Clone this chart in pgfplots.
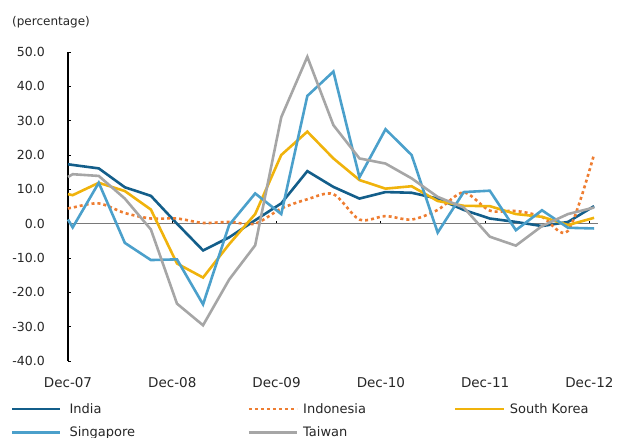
\documentclass[border=0pt]{standalone}
\usepackage{fontspec}
\setmainfont{DejaVu Sans}
\usepackage{pgfplots}
\usepackage{pgfplotstable}
\pgfplotsset{compat=1.18}

\definecolor{cIndia}{HTML}{135E8A}
\definecolor{cIndonesia}{HTML}{EE7D31}
\definecolor{cKorea}{HTML}{F0B30C}
\definecolor{cSingapore}{HTML}{4BA0CB}
\definecolor{cTaiwan}{HTML}{A6A6A6}

% quarterly growth, first row is the value where the lines meet the y axis
\pgfplotstableread{
x      india indonesia korea singapore taiwan
0      17.3  4.4   8.6   1.2   13.6
0.18   17.1  4.7   8.3  -1.1   14.4
1.18   16.1  5.9  11.9  11.9   13.9
2.18   10.6  3.1   9.5  -5.6    7.3
3.18    8.1  1.5   4.1 -10.6   -1.7
4.18    0.0  1.5 -11.6 -10.4  -23.3
5.18   -7.8  0.2 -15.7 -23.5  -29.6
6.18   -4.0  0.5  -6.0  -0.4  -16.3
7.18    1.0  0.0   2.8   8.8   -6.3
8.18    5.9  4.4  20.0   2.8   31.0
9.18   15.3  7.1  26.8  37.2   48.6
10.18  10.7  8.6  19.0  44.3   28.7
11.18   7.3  1.2  12.7  13.5   19.0
12.18   9.2  2.2  10.2  27.5   17.5
13.18   9.0  1.2  10.9  20.0   13.2
14.18   7.3  4.0   6.6  -2.6    7.8
15.18   4.0  9.1   5.2   9.2    4.7
16.18   1.5  3.8   5.1   9.6   -3.8
17.18   0.5  3.7   2.8  -1.9   -6.4
18.18  -0.7  2.0   2.0   3.9   -0.7
19.18   0.5 -2.1  -0.4  -1.2    2.8
20.18   5.1 20.2   1.7  -1.4    4.7
}\growth

\begin{document}
\begin{tikzpicture}
\begin{axis}[
    scale only axis,
    width=530pt, height=309pt,
    xmin=0, xmax=20.33,
    ymin=-40, ymax=50,
    axis x line*=middle,
    axis y line*=left,
    hide obscured x ticks=false,
    x axis line style={draw=gray!95!black, line width=1.6pt},
    y axis line style={black, line width=1.1pt},
    tick align=inside,
    major tick length=3pt,
    xtick={0,4,8,12,16,20},
    xticklabels={Dec-07,Dec-08,Dec-09,Dec-10,Dec-11,Dec-12},
    xtick style={black, line width=0.9pt},
    ytick={-40,-30,-20,-10,0,10,20,30,40,50},
    yticklabels={-40.0,-30.0,-20.0,-10.0,0.0,10.0,20.0,30.0,40.0,50.0},
    ytick style={black, line width=0.9pt},
    xticklabel style={anchor=center, yshift=-159pt, font=\fontsize{13.5}{16}\selectfont, text=black!85},
    yticklabel style={anchor=east, inner sep=0pt, xshift=-23pt, font=\fontsize{12.5}{15}\selectfont, text=black!85},
    clip=false,
    legend columns=3,
    legend cell align=left,
    legend image code/.code={\draw[#1] (0pt,0pt) -- (48pt,0pt);},
    legend style={at={(0,0)}, anchor=north west, xshift=-57pt, yshift=-42.4pt,
        draw=none, fill=none, inner sep=0pt, outer sep=0pt,
        column sep=0pt, row sep=12pt,
        font=\fontsize{13}{16}\selectfont, text=black!85,
        nodes={inner sep=0pt},
        /tikz/column 1/.style={column sep=8pt},
        /tikz/column 3/.style={column sep=5pt},
        /tikz/column 5/.style={column sep=5pt}},
    every axis plot/.append style={line width=2.6pt},
]
\addplot[cIndia] table[x=x, y=india] {\growth};
\addplot[cIndonesia, smooth, dash pattern=on 3pt off 3pt] table[x=x, y=indonesia] {\growth};
\addplot[cKorea] table[x=x, y=korea] {\growth};
\addplot[cSingapore] table[x=x, y=singapore] {\growth};
\addplot[cTaiwan] table[x=x, y=taiwan] {\growth};
\legend{\makebox[178pt][l]{India}, \makebox[151pt][l]{Indonesia}, South Korea, Singapore, Taiwan}
\coordinate (O) at (rel axis cs:0,0);
\coordinate (T) at (rel axis cs:1,1);
\coordinate (TL) at (rel axis cs:0,1);
\end{axis}
\node[anchor=west, inner sep=0pt, font=\fontsize{12}{15}\selectfont, text=black!85]
    at ([xshift=-56pt, yshift=30pt]TL) {(percentage)};
\pgfresetboundingbox
\path[use as bounding box] ([xshift=-68pt, yshift=-77pt]O) rectangle ([xshift=25pt, yshift=52pt]T);
\end{tikzpicture}
\end{document}
